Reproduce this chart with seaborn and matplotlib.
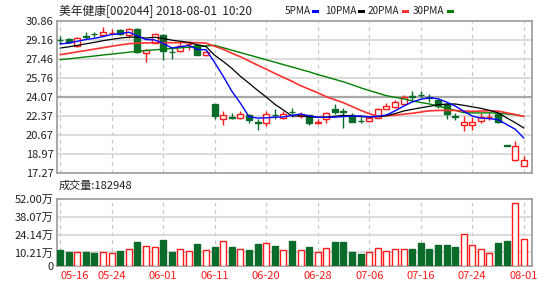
import numpy as np
import pandas as pd
import matplotlib
matplotlib.use('Agg')
import matplotlib.pyplot as plt
from matplotlib.patches import Rectangle
import seaborn as sns

# ---------------- data ----------------
dates = ['05-16','05-17','05-18','05-21','05-22','05-23','05-24','05-25','05-28','05-29',
         '05-30','05-31','06-01','06-04','06-05','06-06','06-07','06-08','06-11','06-12',
         '06-13','06-14','06-15','06-19','06-20','06-21','06-22','06-25','06-26','06-27',
         '06-28','06-29','07-02','07-03','07-04','07-05','07-06','07-09','07-10','07-11',
         '07-12','07-13','07-16','07-17','07-18','07-19','07-20','07-23','07-24','07-25',
         '07-26','07-27','07-30','07-31','08-01']
opens = [29.14, 29.24, 28.65, 29.50, 29.72, 29.65, 29.80, 30.07, 29.63, 30.13,
         28.00, 28.89, 29.63, 28.12, 28.14, 28.77, 28.74, 27.80, 23.40, 22.07,
         22.31, 22.16, 22.45, 21.82, 21.70, 22.48, 22.22, 22.74, 22.40, 22.43,
         21.72, 22.10, 22.96, 22.78, 22.45, 21.95, 21.88, 22.22, 23.00, 23.15,
         23.45, 24.12, 24.24, 24.04, 23.79, 23.40, 22.34, 21.55, 21.55, 21.92,
         22.29, 22.58, 19.72, 18.43, 17.92]
highs = [29.54, 29.30, 29.42, 29.92, 29.92, 30.36, 30.13, 30.12, 30.20, 30.22,
         28.38, 29.78, 29.70, 28.44, 29.03, 29.03, 28.80, 28.20, 23.45, 22.81,
         22.66, 22.81, 22.55, 22.13, 22.81, 22.96, 22.81, 23.10, 22.75, 22.50,
         22.10, 22.75, 23.40, 23.11, 22.60, 22.30, 22.30, 23.10, 23.55, 23.80,
         24.20, 24.60, 24.60, 24.30, 23.90, 23.50, 22.66, 22.36, 22.30, 22.60,
         22.60, 22.65, 19.75, 20.14, 18.81]
lows = [28.83, 28.85, 28.53, 29.24, 29.42, 29.60, 29.63, 29.65, 29.30, 28.00,
        27.16, 28.85, 27.40, 27.46, 28.09, 28.29, 27.85, 27.75, 22.10, 21.54,
        22.13, 22.10, 21.75, 21.09, 21.50, 22.07, 22.10, 22.30, 22.20, 21.60,
        21.65, 21.71, 22.51, 21.33, 21.80, 21.70, 21.80, 22.15, 22.95, 23.10,
        23.40, 23.70, 23.95, 23.60, 23.10, 22.10, 21.99, 21.03, 21.10, 21.70,
        22.00, 21.70, 19.66, 18.31, 17.92]
closes = [29.12, 28.94, 29.33, 29.47, 29.69, 29.92, 29.83, 29.71, 30.13, 28.09,
          28.23, 29.69, 28.14, 28.09, 28.65, 28.80, 27.85, 28.05, 22.40, 22.45,
          22.15, 22.51, 22.00, 21.78, 22.58, 22.45, 22.58, 22.70, 22.45, 21.71,
          21.80, 22.60, 22.75, 22.72, 21.85, 21.92, 22.22, 23.02, 23.30, 23.65,
          24.05, 24.09, 24.20, 24.00, 23.22, 22.55, 22.31, 21.86, 21.86, 22.31,
          22.31, 21.86, 19.70, 19.70, 18.43]
volumes = [12.1, 10.6, 10.6, 10.6, 9.8, 10.6, 9.8, 11.6, 12.9, 18.1,
           15.5, 14.5, 19.7, 10.6, 13.2, 11.6, 16.6, 12.4, 14.7, 18.9,
           14.2, 13.2, 12.4, 16.6, 17.4, 15.5, 12.4, 18.9, 12.1, 14.2,
           10.6, 13.9, 18.1, 18.1, 10.6, 9.2, 10.6, 13.9, 11.6, 13.2,
           13.2, 13.2, 17.4, 13.2, 15.8, 15.8, 14.2, 24.6, 15.8, 13.2,
           10.0, 17.4, 18.9, 48.6, 20.5]
ma5 = [28.82, 28.88, 29.05, 29.20, 29.31, 29.47, 29.65, 29.72, 29.86, 29.54,
       29.20, 29.17, 28.86, 28.45, 28.56, 28.67, 28.31, 28.29, 27.15, 25.91,
       24.58, 23.51, 22.30, 22.18, 22.20, 22.26, 22.28, 22.42, 22.55, 22.38,
       22.25, 22.25, 22.26, 22.32, 22.34, 22.37, 22.29, 22.35, 22.46, 22.82,
       23.25, 23.62, 23.86, 24.00, 23.91, 23.61, 23.26, 22.79, 22.36, 22.18,
       22.13, 22.04, 21.61, 21.18, 20.40]
ma10 = [28.44, 28.55, 28.68, 28.82, 28.95, 29.10, 29.22, 29.33, 29.42, 29.42,
        29.33, 29.41, 29.29, 29.15, 29.05, 28.94, 28.74, 28.57, 27.80, 27.24,
        26.63, 25.91, 25.30, 24.66, 24.06, 23.42, 22.90, 22.36, 22.37, 22.29,
        22.26, 22.27, 22.34, 22.43, 22.36, 22.31, 22.27, 22.30, 22.39, 22.58,
        22.81, 22.96, 23.10, 23.23, 23.37, 23.43, 23.44, 23.32, 23.18, 23.05,
        22.87, 22.65, 22.20, 21.77, 21.29]
ma20 = [27.85, 27.97, 28.10, 28.22, 28.35, 28.47, 28.60, 28.72, 28.83, 28.88,
        28.90, 28.92, 28.92, 28.92, 28.93, 28.93, 28.92, 28.88, 28.60, 28.33,
        27.98, 27.66, 27.29, 26.91, 26.55, 26.18, 25.82, 25.47, 25.08, 24.76,
        24.44, 24.09, 23.82, 23.55, 23.21, 22.87, 22.58, 22.33, 22.38, 22.44,
        22.53, 22.61, 22.72, 22.83, 22.86, 22.87, 22.86, 22.81, 22.78, 22.81,
        22.84, 22.80, 22.65, 22.50, 22.33]
ma30 = [27.40, 27.48, 27.56, 27.65, 27.73, 27.82, 27.90, 27.98, 28.07, 28.15,
        28.22, 28.28, 28.34, 28.40, 28.46, 28.52, 28.58, 28.64, 28.68, 28.47,
        28.25, 28.04, 27.82, 27.61, 27.39, 27.18, 26.96, 26.75, 26.53, 26.32,
        26.07, 25.86, 25.64, 25.42, 25.16, 24.89, 24.64, 24.41, 24.18, 24.04,
        23.90, 23.71, 23.58, 23.44, 23.26, 23.05, 22.87, 22.66, 22.64, 22.64,
        22.65, 22.62, 22.55, 22.48, 22.34]
price_ticks = [30.86, 29.16, 27.46, 25.76, 24.07, 22.37, 20.67, 18.97, 17.27]
vol_ticks = [52.00, 38.07, 24.14, 10.21, 0]
vol_tick_labels = ['52.00万', '38.07万', '24.14万', '10.21万', '0']
date_labels = ['05-16', '05-24', '06-01', '06-11', '06-20', '06-28', '07-06', '07-16', '07-24', '08-01']
title = '美年健康[002044] 2018-08-01  10:20'
vol_title = '成交量:182948'
legend_labels = ['5PMA', '10PMA', '20PMA', '30PMA']

# ---------------- style ----------------
sns.set_style('white')
plt.rcParams['font.family'] = ['Noto Sans CJK SC', 'DejaVu Sans']

RED = '#ff1a1a'
GREEN = '#0b6b2b'
ma_colors = ['#0000ff', '#000000', '#ff3030', '#008000']

df = pd.DataFrame({'date': dates, 'open': opens, 'high': highs, 'low': lows,
                   'close': closes, 'vol': volumes,
                   'ma5': ma5, 'ma10': ma10, 'ma20': ma20, 'ma30': ma30})
df['idx'] = np.arange(len(df))
df['up'] = df['close'] >= df['open']

W, H = 550, 286
fig = plt.figure(figsize=(W / 100, H / 100), dpi=100)
fig.patch.set_facecolor('white')

def fx(px):
    return px / W

def fy(py):
    return 1 - py / H

ax = fig.add_axes([fx(57.5), fy(173), fx(532) - fx(57.5), (173 - 21) / H])
ax2 = fig.add_axes([fx(57.5), fy(265.5), fx(532) - fx(57.5), (265.5 - 199) / H])

xlim = (-0.3, 54.95)
label_pos = [dates.index(d) for d in date_labels]

for a in (ax, ax2):
    a.set_xlim(*xlim)
    for p in label_pos:
        a.axvline(p, color='#c8c8c8', lw=0.9, ls=(0, (3, 3)), zorder=0)
    for s in a.spines.values():
        s.set_color('#9a9a9a')
        s.set_linewidth(1.2)
    a.tick_params(axis='both', length=0, labelsize=8, colors='#222222', pad=3)

# price pane
ax.set_ylim(17.27, 30.86)
for t in price_ticks[1:-1]:
    if abs(t - 24.07) < 1e-6:
        ax.axhline(t, color='#a8a8a8', lw=1.6, zorder=0)
    else:
        ax.axhline(t, color='#d6d6d6', lw=1.2, zorder=0)
ax.set_yticks(price_ticks)
ax.set_yticklabels(['%.2f' % t for t in price_ticks])
ax.set_xticks([])

colors_face = np.where(df['up'], 'white', GREEN)
colors_edge = np.where(df['up'], RED, GREEN)
ax.vlines(df['idx'], df['low'], df['high'], colors=colors_edge, lw=1.0, zorder=2)
body_bottom = np.minimum(df['open'], df['close'])
body_h = np.maximum(np.abs(df['close'] - df['open']), 0.03)
ax.bar(df['idx'], body_h, bottom=body_bottom, width=0.7, color=colors_face,
       edgecolor=colors_edge, linewidth=1.0, zorder=3)

for col, c, lw in zip(['ma30', 'ma20', 'ma10', 'ma5'],
                      [ma_colors[3], ma_colors[2], ma_colors[1], ma_colors[0]],
                      [1.0, 1.2, 0.9, 1.0]):
    sns.lineplot(data=df, x='idx', y=col, ax=ax, color=c, lw=lw, legend=False, zorder=4)
ax.set_xlabel('')
ax.set_ylabel('')
ax.set_xlim(*xlim)

# volume pane
ax2.set_ylim(0, 52)
for t in vol_ticks[1:-1]:
    ax2.axhline(t, color='#d6d6d6', lw=1.2, zorder=0)
ax2.set_yticks(vol_ticks)
ax2.set_yticklabels(vol_tick_labels)
ax2.bar(df['idx'], df['vol'], width=0.7, color=colors_face, edgecolor=colors_edge,
        linewidth=1.0, zorder=3)
ax2.set_xticks(label_pos)
ax2.set_xticklabels(date_labels, color=RED, fontsize=8)
ax2.tick_params(axis='x', pad=4)
ax2.get_xticklabels()[0].set_ha('left')
ax2.set_xlabel('')
ax2.set_ylabel('')
ax2.set_xlim(*xlim)

# header texts
fig.text(fx(59), fy(11), title, ha='left', va='center', fontsize=8.5, color='#222222')
leg_x = [285, 325, 368, 413]
dash_x = [312, 358, 402, 447]
for lab, lx, dx, c in zip(legend_labels, leg_x, dash_x, ma_colors):
    fig.text(fx(lx), fy(11), lab, ha='left', va='center', fontsize=7.2, color='#222222')
    fig.patches.append(Rectangle((fx(dx), fy(13)), fx(7), 3 / H, transform=fig.transFigure,
                                 facecolor=c, edgecolor='none'))
fig.text(fx(59), fy(186), vol_title, ha='left', va='center', fontsize=8, color='#222222')

fig.savefig('out.png', dpi=100, facecolor='white')
